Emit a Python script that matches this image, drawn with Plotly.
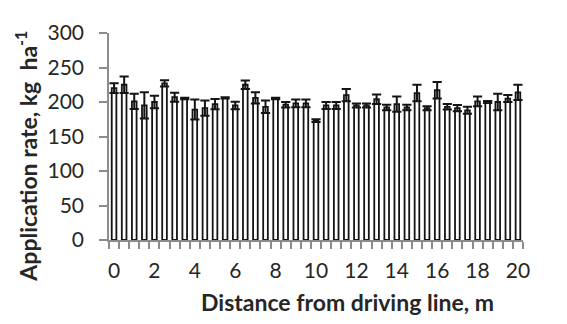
import plotly.graph_objects as go

distance_m = [0, 0.5, 1, 1.5, 2, 2.5, 3, 3.5, 4, 4.5, 5, 5.5, 6, 6.5, 7, 7.5, 8, 8.5, 9, 9.5,
              10, 10.5, 11, 11.5, 12, 12.5, 13, 13.5, 14, 14.5, 15, 15.5, 16, 16.5, 17, 17.5,
              18, 18.5, 19, 19.5, 20]
rate_kg_ha = [220, 225, 201, 195, 200, 227, 207, 205, 189, 191, 197, 206, 195, 225, 206, 193,
              205, 196, 198, 198, 173, 195, 195, 210, 195, 195, 204, 192, 197, 192, 213, 191,
              217, 193, 191, 188, 201, 200, 200, 205, 214]
rate_sd = [7, 12, 11, 19, 9, 4.5, 6.5, 1, 14.5, 11, 7.5, 1, 5.5, 6, 8, 9,
           1, 4, 5.5, 5.5, 2, 5, 5, 9, 3, 3, 7, 4, 11, 4, 12, 3,
           12, 4, 4.5, 5, 7, 1.5, 12, 5, 11]
x_tick_vals = [0, 2, 4, 6, 8, 10, 12, 14, 16, 18, 20]
x_tick_text = ["0", "2", "4", "6", "8", "10", "12", "14", "16", "18", "20"]
y_tick_vals = [0, 50, 100, 150, 200, 250, 300]

# the page body has an 8 px margin, so the figure is drawn 8 px right/down
OFF = 8
W, H = 567 - OFF, 324 - OFF
L, R, T, B = 109 - OFF, 523 - OFF, 19 - OFF, 240 - OFF

dark = "#141414"
axis_gray = "#8c8c8c"
text_col = "#262626"
font_family = "Lato, 'Open Sans', sans-serif"

fig = go.Figure()
fig.add_trace(go.Bar(
    x=distance_m, y=rate_kg_ha, width=0.23,
    marker=dict(color="white", line=dict(color=dark, width=1.8)),
    error_y=dict(type="data", array=rate_sd, visible=True, color=dark,
                 thickness=2, width=4.6),
))

def px_x(p):
    return (p - OFF - L) / (R - L)

def px_y(p):
    return (B - (p - OFF)) / (B - T)

fig.update_layout(
    width=W, height=H,
    margin=dict(l=L, r=W - R, t=T, b=H - B, pad=0),
    paper_bgcolor="white", plot_bgcolor="white",
    showlegend=False,
    font=dict(family=font_family, size=21, color=text_col),
    xaxis=dict(
        range=[-0.25, 20.25], tickmode="array", tickvals=x_tick_vals, ticktext=x_tick_text,
        ticks="", showgrid=False, zeroline=False, showline=True, linecolor=axis_gray,
        linewidth=1.5, ticklabelstandoff=11, ticklabeloverflow="allow",
        minor=dict(tick0=-0.25, dtick=0.5, ticks="outside", ticklen=7,
                   tickcolor=axis_gray, tickwidth=1.5, showgrid=False),
    ),
    yaxis=dict(
        range=[0, 300], tickmode="array", tickvals=y_tick_vals, ticks="outside",
        ticklen=8, tickcolor=axis_gray, tickwidth=1.5, showgrid=False, zeroline=False,
        showline=True, linecolor=axis_gray, linewidth=1.5, ticklabelstandoff=11,
        ticklabeloverflow="allow",
    ),
    annotations=[
        dict(text="<b>Distance from driving line, m</b>", xref="paper", yref="paper",
             x=px_x(347), y=px_y(306), xanchor="center", yanchor="middle",
             showarrow=False, font=dict(size=23, color=text_col)),
        dict(text="<b>Application rate, kg\u00a0\u00a0ha<sup>-1</sup></b>", xref="paper",
             yref="paper", x=px_x(27), y=px_y(151), xanchor="center", yanchor="middle",
             textangle=-90, showarrow=False, font=dict(size=23, color=text_col)),
    ],
)

fig.write_html("out.html")
